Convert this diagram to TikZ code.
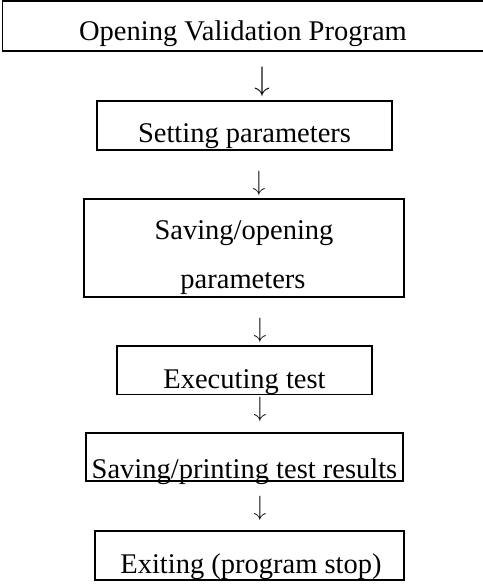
\documentclass[tikz,border=0pt]{standalone}
\usepackage{fontspec}
\setmainfont{Liberation Serif}
\newfontfamily\arrowfont{Latin Modern Roman}
\begin{document}
\begin{tikzpicture}[x=1bp,y=-1bp,
  stepbox/.style={draw=black,line width=1.7bp,rectangle},
  lbl/.style={inner sep=0pt,anchor=base,font=\fontsize{28.5bp}{34bp}\selectfont},
  arr/.style={inner sep=0pt,font=\arrowfont\fontsize{28bp}{32bp}\selectfont}]
\useasboundingbox (0,0) rectangle (483,584);
% boxes
\draw[stepbox] (2.5,1) rectangle (488,51) coordinate (b1se);
\coordinate (b1) at (243,26);
\node[stepbox,minimum width=295bp,minimum height=49bp] (b2) at (244.5,125.5) {};
\node[stepbox,minimum width=320bp,minimum height=98bp] (b3) at (244,248) {};
\node[stepbox,minimum width=255bp,minimum height=48.5bp] (b4) at (244.5,370.25) {};
\node[stepbox,minimum width=317bp,minimum height=48bp] (b5) at (244.5,457) {};
\node[stepbox,minimum width=309bp,minimum height=49bp] (b6) at (249.5,555.5) {};
% texts
\node[lbl] (t1) at (243,40.5) {Opening Validation Program};
\node[lbl] (t2) at (244.5,143) {Setting parameters};
\node[lbl] (t3a) at (244,239) {Saving/opening};
\node[lbl] (t3b) at (243,288) {parameters};
\node[lbl] (t4) at (244.5,388) {Executing test};
\node[lbl] (t5) at (244.5,478) {Saving/printing test results};
\node[lbl] (t6) at (251,573) {Exiting (program stop)};
% arrows (text glyphs, as in the reference)
\node[arr,font=\arrowfont\fontsize{34bp}{38bp}\selectfont] (a1) at (262,81.5) {↓};
\node[arr] (a2) at (259,183.5) {↓};
\node[arr] (a3) at (260,330.5) {↓};
\node[arr] (a4) at (260,409) {↓};
\node[arr] (a5) at (260,508.5) {↓};
\end{tikzpicture}
\end{document}
